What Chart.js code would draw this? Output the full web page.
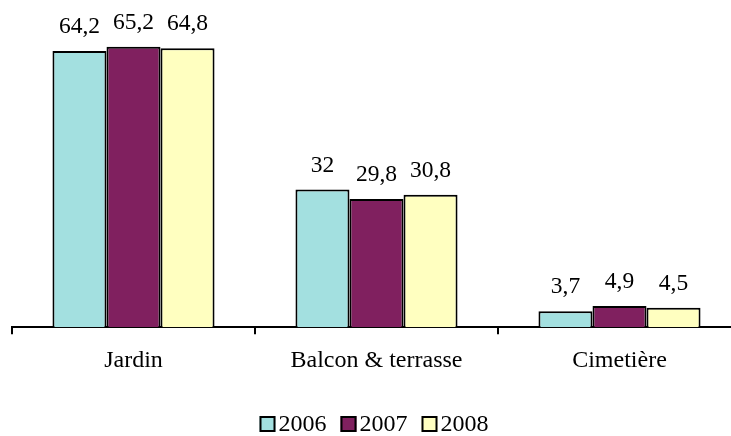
<!DOCTYPE html>
<html>
<head>
<meta charset="utf-8">
<script src="https://cdn.jsdelivr.net/npm/chart.js@4"></script>
<style>
    html, body { margin: 0; padding: 0; background: #fff; overflow: hidden; }
    #wrap { width: 745px; height: 436px; }
</style>
</head>
<body>
<div id="wrap"><canvas id="chart"></canvas></div>
<script>
// data
const categories = ['Jardin', 'Balcon & terrasse', 'Cimetière'];
const years = ['2006', '2007', '2008'];
const values2006 = [64.2, 32, 3.7];
const values2007 = [65.2, 29.8, 4.9];
const values2008 = [64.8, 30.8, 4.5];
const colors = ['#A3E0E0', '#80205F', '#FFFFC0'];

const FONT = "'Liberation Serif', 'Times New Roman', serif";

// value labels above each bar, French decimal comma
const valueLabels = {
    id: 'valueLabels',
    afterDatasetsDraw(chart) {
        const ctx = chart.ctx;
        ctx.save();
        ctx.font = '23.5px ' + FONT;
        ctx.fillStyle = '#000';
        ctx.textAlign = 'center';
        ctx.textBaseline = 'alphabetic';
        chart.data.datasets.forEach((ds, i) => {
            chart.getDatasetMeta(i).data.forEach((bar, j) => {
                const txt = String(ds.data[j]).replace('.', ',');
                ctx.fillText(txt, bar.x, bar.y - 18);
            });
        });
        ctx.restore();
    }
};

// legend drawn like the original: small square, tight gap, text
const bottomLegend = {
    id: 'bottomLegend',
    afterDraw(chart) {
        const ctx = chart.ctx;
        ctx.save();
        ctx.font = '24px ' + FONT;
        const box = 16, gap = 3, itemGap = 14, cy = 424;
        const widths = chart.data.datasets.map(ds => box + gap + ctx.measureText(ds.label).width);
        const total = widths.reduce((a, b) => a + b, 0) + itemGap * (widths.length - 1);
        let x = 374 - total / 2;
        chart.data.datasets.forEach((ds, i) => {
            ctx.fillStyle = ds.backgroundColor;
            ctx.fillRect(x, cy - box / 2, box, box);
            ctx.lineWidth = 2;
            ctx.strokeStyle = '#000';
            ctx.strokeRect(x + 1, cy - box / 2 + 1, box - 2, box - 2);
            ctx.fillStyle = '#000';
            ctx.textAlign = 'left';
            ctx.textBaseline = 'middle';
            ctx.fillText(ds.label, x + box + gap, cy + 1);
            x += widths[i] + itemGap;
        });
        ctx.restore();
    }
};

new Chart(document.getElementById('chart'), {
    type: 'bar',
    data: {
        labels: categories,
        datasets: [values2006, values2007, values2008].map((vals, i) => ({
            label: years[i],
            data: vals,
            backgroundColor: colors[i],
            borderColor: '#000',
            borderWidth: 2,
            borderSkipped: 'bottom',
            barPercentage: 1,
            categoryPercentage: 0.667
        }))
    },
    options: {
        responsive: true,
        maintainAspectRatio: false,
        animation: false,
        layout: { padding: { left: 12, right: 4, top: 26, bottom: 49 } },
        plugins: {
            legend: { display: false },
            tooltip: { enabled: false }
        },
        scales: {
            x: {
                offset: true,
                grid: {
                    display: true,
                    offset: true,
                    drawOnChartArea: false,
                    drawTicks: true,
                    tickLength: 7,
                    color: '#000',
                    lineWidth: 2
                },
                border: { display: true, color: '#000', width: 2 },
                ticks: {
                    color: '#000',
                    padding: 12,
                    maxRotation: 0,
                    autoSkip: false,
                    font: { family: FONT, size: 24 }
                }
            },
            y: {
                display: false,
                min: 0,
                max: 70
            }
        }
    },
    plugins: [valueLabels, bottomLegend]
});
</script>
</body>
</html>
